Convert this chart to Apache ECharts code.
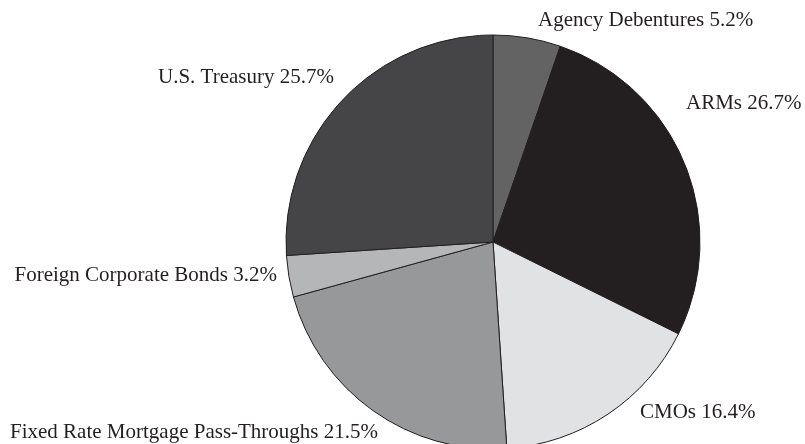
<!DOCTYPE html>
<html>
<head>
<meta charset="utf-8">
<script src="https://cdn.jsdelivr.net/npm/echarts@6/dist/echarts.min.js"></script>
<style>
  html, body { margin: 0; padding: 0; background: #fff; }
  #chart { width: 805px; height: 444px; }
</style>
</head>
<body>
<div id="chart"></div>
<script>
// portfolio shares, clockwise from 12 o'clock
const categories = ['Agency Debentures', 'ARMs', 'CMOs', 'Fixed Rate Mortgage Pass-Throughs', 'Foreign Corporate Bonds', 'U.S. Treasury'];
const shares = [5.2, 26.7, 16.4, 21.5, 3.2, 25.7];
const sliceColors = ['#636364', '#231f20', '#e1e2e3', '#97989a', '#b5b6b8', '#454547'];

// where each label sits (x, y, align)
const labelSpots = [
  [538, 20, 'left'],
  [686, 103, 'left'],
  [640, 412, 'left'],
  [10, 432, 'left'],
  [277, 275, 'right'],
  [334, 77, 'right']
];

const myChart = echarts.init(document.getElementById('chart'));

let option = {
  backgroundColor: '#fff',
  animation: false,
  series: [{
    type: 'pie',
    center: [493, 242],
    radius: [0, 207],
    startAngle: 90,
    clockwise: true,
    data: categories.map((name, i) => ({
      name: name,
      value: shares[i],
      itemStyle: { color: sliceColors[i] }
    })),
    itemStyle: {
      borderColor: '#231f20',
      borderWidth: 1
    },
    label: {
      show: true,
      position: 'outside',
      formatter: p => p.name + ' ' + p.value.toFixed(1) + '%',
      fontFamily: 'Liberation Serif',
      fontSize: 21,
      color: '#231f20',
      overflow: 'none'
    },
    labelLine: { show: false },
    labelLayout: function (params) {
      const s = labelSpots[params.dataIndex];
      return { x: s[0], y: s[1], align: s[2], verticalAlign: 'middle', hideOverlap: false };
    },
    emphasis: { disabled: true }
  }]
};

myChart.setOption(option, true);
</script>
</body>
</html>
